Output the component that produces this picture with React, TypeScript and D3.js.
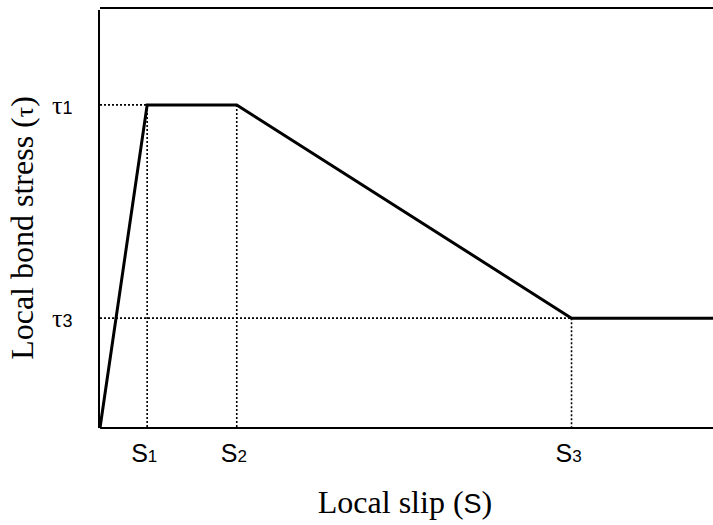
import React from "react";
import * as d3 from "d3";

const slipPoints = [0, 1, 2.9, 10, 13];
const stressPoints = [0, 1, 1, 0.34, 0.34];
const slipMarks = [
  { label: "S", sub: "1", s: 1, t: 1 },
  { label: "S", sub: "2", s: 2.9, t: 1 },
  { label: "S", sub: "3", s: 10, t: 0.34 },
];
const stressMarks = [
  { label: "τ", sub: "1", t: 1, s: 1 },
  { label: "τ", sub: "3", t: 0.34, s: 10 },
];

const W = 713;
const H = 525;
const left = 100;
const right = 713;
const top = 8;
const bottom = 428;

export default function App() {
  const x = d3.scaleLinear().domain([0, 13]).range([left, right]);
  const y = d3.scaleLinear().domain([0, 1.3]).range([bottom, top]);
  const data = slipPoints.map((s, i) => [s, stressPoints[i]] as [number, number]);
  const line = d3
    .line<[number, number]>()
    .x((d) => x(d[0]))
    .y((d) => y(d[1]));
  const sans = "Liberation Sans, Arial, sans-serif";
  const serif = "Liberation Serif, Times New Roman, serif";
  return (
    <svg width={W} height={H} style={{ position: "absolute", left: 0, top: 0, background: "#fff" }}>
      {/* dotted guides */}
      {stressMarks.map((m, i) => (
        <line key={"h" + i} x1={x(0)} x2={x(m.s)} y1={y(m.t)} y2={y(m.t)} stroke="#000" strokeWidth={1.6} strokeDasharray="2,2" />
      ))}
      {slipMarks.map((m, i) => (
        <line key={"v" + i} x1={x(m.s)} x2={x(m.s)} y1={y(m.t)} y2={y(0)} stroke="#000" strokeWidth={1.6} strokeDasharray="2,2" />
      ))}
      {/* frame */}
      <line x1={left} x2={right} y1={top} y2={top} stroke="#000" strokeWidth={1.8} />
      <line x1={left - 1} x2={left - 1} y1={top + 2} y2={bottom} stroke="#000" strokeWidth={2} />
      <line x1={left} x2={right} y1={bottom} y2={bottom} stroke="#000" strokeWidth={2} />
      {/* curve */}
      <path d={line(data) || ""} fill="none" stroke="#000" strokeWidth={3} strokeLinejoin="miter" />
      {/* tau labels */}
      {stressMarks.map((m, i) => (
        <text key={"tl" + i} x={52} y={y(m.t) + 9} fontFamily={serif} fontSize={26}>
          {m.label}
          <tspan fontFamily={sans} fontSize={18}>{m.sub}</tspan>
        </text>
      ))}
      {/* S labels */}
      {slipMarks.map((m, i) => (
        <text key={"sl" + i} x={x(m.s) - 16} y={462} fontFamily={sans} fontSize={25}>
          {m.label}
          <tspan fontSize={17}>{m.sub}</tspan>
        </text>
      ))}
      {/* axis titles */}
      <text x={405} y={513} textAnchor="middle" fontFamily={serif} fontSize={32}>
        Local slip (<tspan fontFamily={sans} fontSize={27}>S</tspan>)
      </text>
      <text transform={`translate(33,228) rotate(-90)`} textAnchor="middle" fontFamily={serif} fontSize={32}>
        Local bond stress (<tspan fontSize={26}>τ</tspan>)
      </text>
    </svg>
  );
}
